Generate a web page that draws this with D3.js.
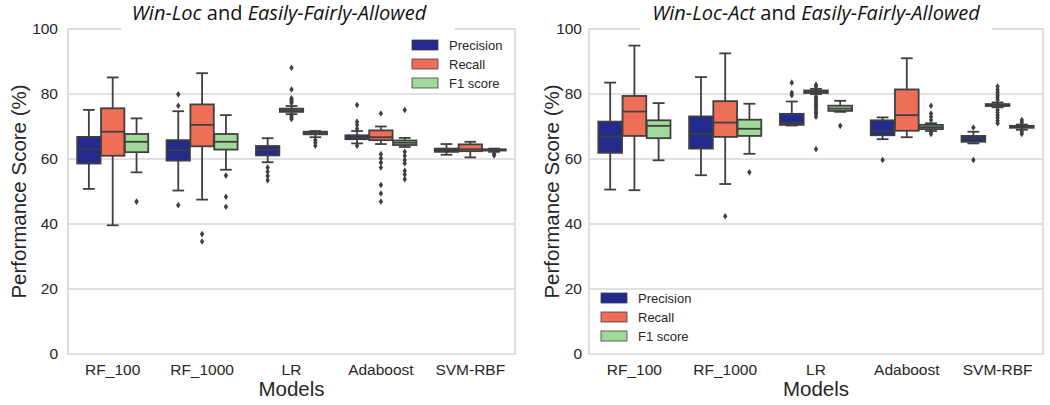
<!DOCTYPE html>
<html>
<head>
<meta charset="utf-8">
<script src="https://cdn.jsdelivr.net/npm/d3@7"></script>
<style>
  html, body { margin: 0; padding: 0; background: #fff; }
  svg { display: block; }
</style>
</head>
<body>
<svg id="chart" width="1050" height="405"></svg>
<script>
// ---------------- DATA ----------------
const models = ["RF_100", "RF_1000", "LR", "Adaboost", "SVM-RBF"];
const metrics = ["Precision", "Recall", "F1 score"];
const yTicks = [0, 20, 40, 60, 80, 100];
const titleLeft = [["Win-Loc", true], [" and ", false], ["Easily-Fairly-Allowed", true]];
const titleRight = [["Win-Loc-Act", true], [" and ", false], ["Easily-Fairly-Allowed", true]];

// box stats per model: [lower whisker, Q1, median, Q3, upper whisker]
const leftPrecision = [[50.8, 58.6, 63.0, 66.8, 75.1], [50.3, 59.5, 62.7, 65.8, 74.7], [59.0, 61.1, 62.8, 64.0, 66.4], [64.8, 66.1, 66.7, 67.3, 68.6], [61.3, 62.2, 62.8, 63.2, 64.6]];
const leftPrecisionOut = [[], [79.9, 76.4, 45.8], [57.4, 56.1, 54.8, 53.5], [76.6, 71.5, 70.5, 69.3, 64.1], []];
const leftRecall = [[39.6, 61.0, 68.4, 75.6, 85.1], [47.5, 63.9, 70.5, 76.8, 86.4], [73.8, 74.5, 75.0, 75.5, 76.3], [64.6, 65.8, 66.7, 68.8, 70.0], [60.5, 62.4, 63.0, 64.5, 65.3]];
const leftRecallOut = [[], [36.9, 34.6], [88.1, 81.4, 78.7, 78.2, 77.7, 77.2, 73.3, 72.8, 72.3], [74.0, 61.5, 60.2, 58.9, 57.4, 52.0, 49.4, 46.9], []];
const leftF1 = [[55.9, 62.1, 65.3, 67.7, 72.5], [56.7, 62.9, 65.3, 67.7, 73.5], [66.7, 67.6, 68.0, 68.4, 68.6], [63.7, 64.3, 65.0, 65.7, 66.5], [62.2, 62.6, 62.8, 63.0, 63.2]];
const leftF1Out = [[46.9], [54.9, 48.4, 45.3], [65.8, 65.0, 64.1], [75.1, 62.2, 61.0, 59.7, 58.7, 56.4, 55.2, 53.8], [61.6, 61.1]];

const rightPrecision = [[50.6, 61.9, 66.9, 71.5, 83.5], [55.0, 63.2, 67.7, 73.1, 85.2], [70.3, 70.5, 71.1, 73.9, 77.7], [66.1, 67.3, 68.5, 71.9, 72.8], [64.8, 65.3, 66.3, 67.1, 68.4]];
const rightPrecisionOut = [[], [], [83.5, 80.4, 79.6], [59.7], [69.7, 59.7]];
const rightRecall = [[50.4, 67.1, 74.6, 79.4, 94.9], [52.3, 66.8, 71.2, 77.8, 92.5], [80.0, 80.3, 80.8, 81.1, 81.6], [66.7, 68.7, 73.5, 81.4, 91.0], [75.9, 76.3, 76.6, 76.9, 77.4]];
const rightRecallOut = [[], [42.4], [82.8, 82.3, 79.2, 78.6, 78.0, 77.4, 76.8, 76.2, 75.6, 75.0, 74.4, 73.8, 73.0, 63.0], [], [82.3, 81.3, 80.5, 79.7, 79.0, 78.2, 75.1, 74.3, 73.5, 72.7, 71.8, 71.0]];
const rightF1 = [[59.6, 66.4, 70.2, 71.9, 77.2], [61.6, 67.1, 69.3, 72.1, 77.0], [74.5, 74.8, 75.5, 76.4, 77.9], [68.6, 69.2, 69.8, 70.5, 71.0], [69.0, 69.6, 69.9, 70.2, 70.6]];
const rightF1Out = [[], [55.9], [70.2], [76.4, 74.0, 73.0, 72.0, 68.4, 67.7], [72.0, 71.3, 68.4, 67.7]];

// ---------------- STYLE ----------------
const colors = ["#222a8d", "#ef6e58", "#a1d99b"];
const lineColor = "#3f3f3f";
const gridColor = "#d6d6d6";
const font = "'Liberation Sans', Arial, sans-serif";
const titleFont = "'Open Sans', 'Noto Sans', sans-serif";

const svg = d3.select("#chart");
svg.append("rect").attr("width", 1050).attr("height", 405).attr("fill", "#fff");

function drawPanel(cfg) {
  const g = svg.append("g");
  const x = d3.scaleBand().domain(models).range([cfg.x0, cfg.x1]).paddingInner(0).paddingOuter(0);
  const y = d3.scaleLinear().domain([0, 100]).range([cfg.y1, cfg.y0]);
  const hue = d3.scaleBand().domain(metrics).range([-0.4 * x.bandwidth(), 0.4 * x.bandwidth()]);
  const bw = hue.bandwidth() * 0.98;

  // grid
  g.selectAll(".grid").data(yTicks.filter(t => t > 0 && t < 100)).enter().append("line")
    .attr("x1", cfg.x0).attr("x2", cfg.x1)
    .attr("y1", d => y(d)).attr("y2", d => y(d))
    .attr("stroke", gridColor).attr("stroke-width", 1.3);
  // frame
  g.append("rect").attr("x", cfg.x0).attr("y", cfg.y0)
    .attr("width", cfg.x1 - cfg.x0).attr("height", cfg.y1 - cfg.y0)
    .attr("fill", "none").attr("stroke", gridColor).attr("stroke-width", 1.6);

  // y tick labels
  g.selectAll(".yt").data(yTicks).enter().append("text")
    .attr("x", cfg.x0 - cfg.ytGap).attr("y", d => y(d)).attr("dy", "0.35em")
    .attr("text-anchor", "end").attr("font-family", font).attr("font-size", 15.5)
    .attr("fill", "#262626").text(d => d);
  // x tick labels
  g.selectAll(".xt").data(models).enter().append("text")
    .attr("x", d => x(d) + x.bandwidth() / 2).attr("y", cfg.y1 + 21)
    .attr("text-anchor", "middle").attr("font-family", font).attr("font-size", 15.5)
    .attr("fill", "#262626").text(d => d);
  // axis labels
  g.append("text").attr("x", (cfg.x0 + cfg.x1) / 2).attr("y", cfg.y1 + 42)
    .attr("text-anchor", "middle").attr("font-family", font).attr("font-size", 20.5)
    .attr("fill", "#262626").text("Models");
  g.append("text")
    .attr("transform", `translate(${cfg.ylabX},${(cfg.y0 + cfg.y1) / 2}) rotate(-90)`)
    .attr("text-anchor", "middle").attr("font-family", font).attr("font-size", 20.5)
    .attr("fill", "#262626").text("Performance Score (%)");

  // title with white background
  g.append("rect").attr("x", cfg.tbg0).attr("y", 0).attr("width", cfg.tbg1 - cfg.tbg0).attr("height", cfg.y0 + 3)
    .attr("fill", "#fff");
  const t = g.append("text").attr("x", cfg.titleX).attr("y", 20)
    .attr("text-anchor", "middle").attr("font-family", titleFont).attr("font-size", 20)
    .attr("fill", "#111");
  cfg.title.forEach(([s, it]) => {
    t.append("tspan").attr("font-style", it ? "italic" : "normal").text(s);
  });

  // boxes
  const stats = [cfg.p, cfg.r, cfg.f];
  const outs = [cfg.po, cfg.ro, cfg.fo];
  metrics.forEach((m, j) => {
    models.forEach((mod, i) => {
      const s = stats[j][i];
      const cx = x(mod) + x.bandwidth() / 2 + hue(m) + hue.bandwidth() / 2;
      const bg = g.append("g");
      // whiskers
      bg.append("line").attr("x1", cx).attr("x2", cx).attr("y1", y(s[3])).attr("y2", y(s[4]))
        .attr("stroke", lineColor).attr("stroke-width", 1.8);
      bg.append("line").attr("x1", cx).attr("x2", cx).attr("y1", y(s[1])).attr("y2", y(s[0]))
        .attr("stroke", lineColor).attr("stroke-width", 1.8);
      [s[0], s[4]].forEach(v => {
        bg.append("line").attr("x1", cx - bw / 4).attr("x2", cx + bw / 4).attr("y1", y(v)).attr("y2", y(v))
          .attr("stroke", lineColor).attr("stroke-width", 1.8);
      });
      // box
      bg.append("rect").attr("x", cx - bw / 2).attr("width", bw)
        .attr("y", y(s[3])).attr("height", Math.max(0.5, y(s[1]) - y(s[3])))
        .attr("fill", colors[j]).attr("stroke", lineColor).attr("stroke-width", 1.8);
      // median
      bg.append("line").attr("x1", cx - bw / 2).attr("x2", cx + bw / 2).attr("y1", y(s[2])).attr("y2", y(s[2]))
        .attr("stroke", lineColor).attr("stroke-width", 1.8);
      // outliers
      bg.selectAll(".o").data(outs[j][i]).enter().append("path")
        .attr("d", d => `M${cx},${y(d) - 3.3}L${cx + 2.2},${y(d)}L${cx},${y(d) + 3.3}L${cx - 2.2},${y(d)}Z`)
        .attr("fill", lineColor);
    });
  });

  // legend
  const lg = g.append("g");
  metrics.forEach((m, j) => {
    const ly = cfg.legY + j * 19;
    lg.append("rect").attr("x", cfg.legX).attr("y", ly - 5).attr("width", 26).attr("height", 10)
      .attr("fill", colors[j]).attr("stroke", lineColor).attr("stroke-width", 0.8);
    lg.append("text").attr("x", cfg.legX + 37).attr("y", ly).attr("dy", "0.35em")
      .attr("font-family", font).attr("font-size", 13).attr("fill", "#262626").text(m);
  });
}

drawPanel({
  x0: 68, x1: 515, y0: 29, y1: 354, ytGap: 10, ylabX: 26, tbg0: 121, tbg1: 455, titleX: 279,
  title: titleLeft, legX: 412, legY: 45,
  p: leftPrecision, r: leftRecall, f: leftF1, po: leftPrecisionOut, ro: leftRecallOut, fo: leftF1Out
});
drawPanel({
  x0: 589, x1: 1043, y0: 29, y1: 354, ytGap: 7, ylabX: 559, tbg0: 640, tbg1: 992, titleX: 816,
  title: titleRight, legX: 601, legY: 298,
  p: rightPrecision, r: rightRecall, f: rightF1, po: rightPrecisionOut, ro: rightRecallOut, fo: rightF1Out
});
</script>
</body>
</html>
